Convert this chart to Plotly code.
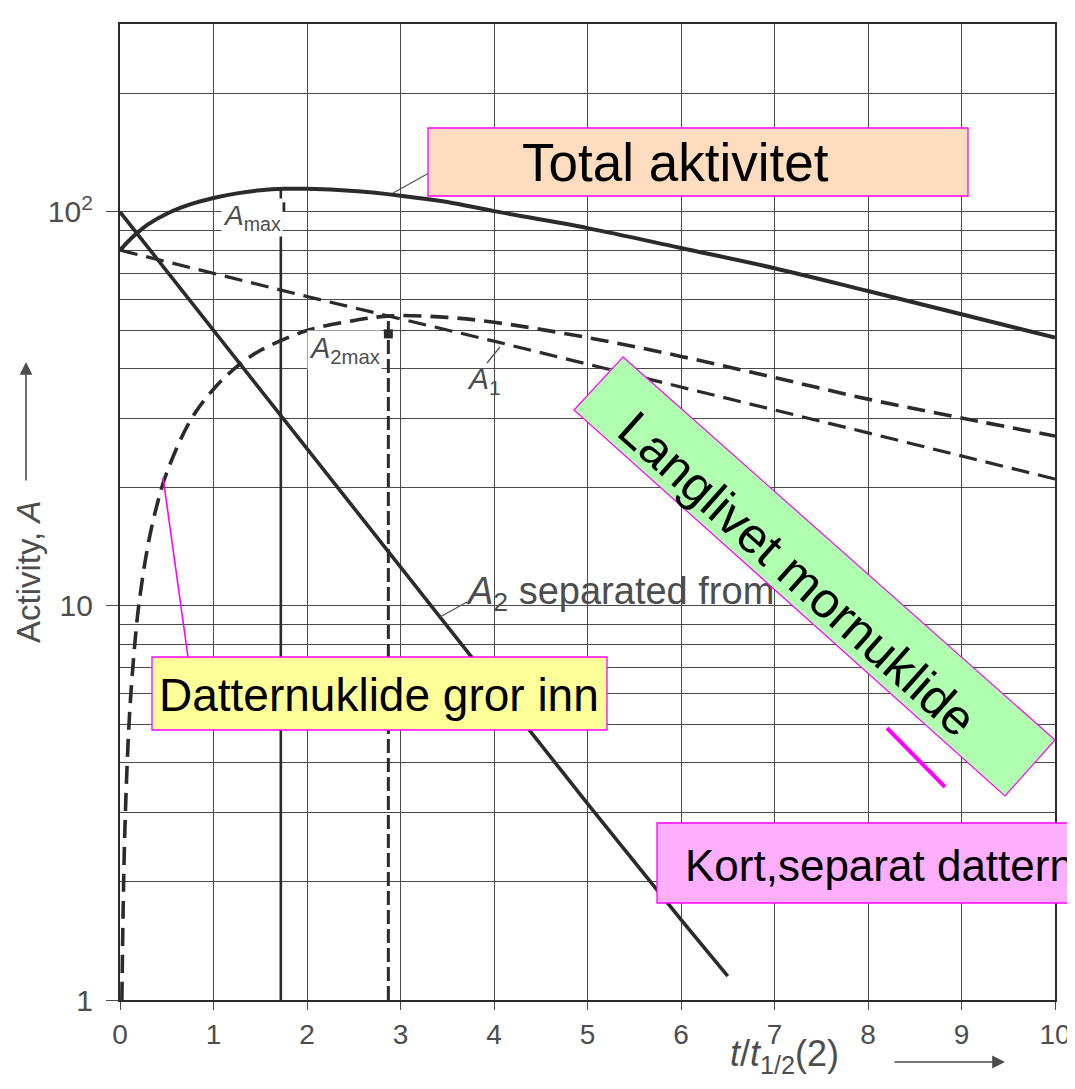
import plotly.graph_objects as go

# ---------------- data ----------------
t_total = [0, 0.15, 0.3, 0.5, 0.75, 1.0, 1.25, 1.5, 1.75, 2.0, 2.5, 3.0, 3.5, 4.0, 5.0, 6.0, 7.0, 8.0, 9.0, 10.0]
total = [80, 87, 93, 99, 104.5, 108.5, 111.5, 113.5, 114.5, 114.5, 113, 110, 106, 100.5, 91, 81, 72, 63, 55, 48]

t_a1 = [0, 2, 4, 6, 8, 10]
a1 = [80, 61, 47, 36, 27.5, 21]

t_a2 = [0.02, 0.05, 0.1, 0.15, 0.2, 0.3, 0.4, 0.5, 0.75, 1.0, 1.25, 1.5, 2.0, 2.5, 2.9, 3.5, 4.0, 5.0, 6.0, 7.0, 8.0, 9.0, 10.0]
a2 = [1.0, 2.6, 5.2, 7.6, 10, 14.3, 18.2, 21.8, 29.5, 35.5, 40.5, 44.5, 50, 53, 54.5, 54, 52.5, 48, 43, 38, 33.5, 30, 27]

t_sep = [0, 1, 2, 3, 4, 5, 6, 6.5]
a2_sep = [100, 50, 25, 12.5, 6.3, 3.15, 1.6, 1.15]

t_amax, amax = 1.72, 114.5
t_a2max, a2max = 2.87, 54.5

x_ticks = list(range(11))
y_major = [1, 10, 100]
y_major_text = ["1", "10", "10<sup>2</sup>"]
y_minor = [2, 3, 4, 5, 6, 7, 8, 9, 20, 30, 40, 50, 60, 70, 80, 90, 200]

# ---------------- layout helpers ----------------
# the page adds an 8 px body margin; the figure is shifted/shrunk so that
# all positions below can be given in page pixels
OFF = 8
W, H = 1075 - OFF, 1089 - 2 * OFF
L, R, T, B = 112, 20, 16, 81
PW, PH = W - L - R, H - T - B
YMAX_LOG = 2.4771


def px(x):
    return (x - OFF - L) / PW


def py(y):
    return (H - B - (y - OFF)) / PH


def t_at(x):
    return 10 * px(x)


def val_at(y):
    return 10 ** (YMAX_LOG * py(y))


INK = "#2b2b2b"
GRID = "#4a4a4a"
SCAN_TXT = "#4d4d4d"
MAG = "#ff00ff"
FONT = "Liberation Sans, Arial, sans-serif"

fig = go.Figure()

fig.add_trace(go.Scatter(x=t_total, y=total, mode="lines", line=dict(color=INK, width=4, shape="spline"),
                         name="Total", hoverinfo="skip"))
fig.add_trace(go.Scatter(x=t_a1, y=a1, mode="lines", line=dict(color=INK, width=3.2, dash="18px,9px"),
                         name="A1", hoverinfo="skip"))
fig.add_trace(go.Scatter(x=t_a2, y=a2, mode="lines", line=dict(color=INK, width=3.6, dash="18px,9px", shape="spline"),
                         name="A2", hoverinfo="skip"))
fig.add_trace(go.Scatter(x=t_sep, y=a2_sep, mode="lines", line=dict(color=INK, width=3.6),
                         name="A2 separated", hoverinfo="skip"))
fig.add_trace(go.Scatter(x=[t_amax, t_amax], y=[1, amax], mode="lines", line=dict(color=INK, width=2.6),
                         hoverinfo="skip"))
fig.add_trace(go.Scatter(x=[t_a2max, t_a2max], y=[1, a2max], mode="lines",
                         line=dict(color=INK, width=3, dash="14px,5px"), hoverinfo="skip"))
fig.add_trace(go.Scatter(x=[t_amax, t_a2max], y=[amax * 0.9, a2max * 0.9], mode="markers",
                         marker=dict(color=INK, size=9, symbol="square"), hoverinfo="skip"))
# label of the original figure that lies partly under the green box
fig.add_trace(go.Scatter(x=[t_at(468)], y=[val_at(594)], mode="text",
                         text=["<i>A</i><sub>2</sub> separated from"], textposition="middle right",
                         textfont=dict(size=38, color=SCAN_TXT, family=FONT), hoverinfo="skip"))

shapes = []
# leader lines from the original figure
for (x0, y0, x1, y1) in [(393, 193, 429, 173), (487, 363, 500, 347), (440, 617, 467, 602)]:
    shapes.append(dict(type="line", xref="paper", yref="paper", x0=px(x0), y0=py(y0), x1=px(x1), y1=py(y1),
                       line=dict(color="#555555", width=1.3)))
# coloured boxes
shapes.append(dict(type="rect", xref="paper", yref="paper", x0=px(428), x1=px(968), y0=py(196), y1=py(128),
                   fillcolor="#fddcbf", line=dict(color=MAG, width=1.3), layer="above"))
shapes.append(dict(type="rect", xref="paper", yref="paper", x0=px(152), x1=px(607), y0=py(730), y1=py(657),
                   fillcolor="#ffff99", line=dict(color=MAG, width=1.3), layer="above"))
shapes.append(dict(type="rect", xref="paper", yref="paper", x0=px(657), x1=px(1090), y0=py(903), y1=py(823),
                   fillcolor="#fdaffd", line=dict(color=MAG, width=1.3), layer="above"))
gp = [(623, 357), (1055, 740), (1005, 796), (574, 410)]
path = "M " + " L ".join(f"{px(a):.5f},{py(b):.5f}" for a, b in gp) + " Z"
shapes.append(dict(type="path", xref="paper", yref="paper", path=path,
                   fillcolor="#b0ffb0", line=dict(color=MAG, width=1.2), layer="above"))
# magenta pointer lines
shapes.append(dict(type="line", xref="paper", yref="paper", x0=px(163), y0=py(477), x1=px(188), y1=py(657),
                   line=dict(color=MAG, width=1.6), layer="above"))
shapes.append(dict(type="line", xref="paper", yref="paper", x0=px(887), y0=py(728), x1=px(945), y1=py(787),
                   line=dict(color=MAG, width=4), layer="above"))

ann = []


def txt(text, x, y, size, color="black", xanchor="center", angle=0, bg=None, family=FONT):
    d = dict(text=text, xref="paper", yref="paper", x=px(x), y=py(y), showarrow=False,
             xanchor=xanchor, yanchor="middle", textangle=angle,
             font=dict(size=size, color=color, family=family))
    if bg:
        d["bgcolor"] = bg
    ann.append(d)


# scan labels
txt("<i>A</i><sub>max</sub>", 252, 218, 28, SCAN_TXT, bg="white")
txt("<i>A</i><sub>2max</sub>", 344, 350, 29, SCAN_TXT, bg="white")
txt("<i>A</i><sub>1</sub>", 484, 380, 30, SCAN_TXT)
# coloured-box texts (drawn after shapes)
txt("Total aktivitet", 675, 162, 53)
txt("Langlivet mornuklide", 797, 574, 50, angle=41.7)
txt("Datternuklide gror inn", 157, 695, 46, xanchor="left")
txt("Kort,separat dattern", 683, 866, 44, xanchor="left")
# axis titles
txt("Activity, <i>A</i>", 28, 572, 33, SCAN_TXT, angle=-90)
txt("<i>t</i>/<i>t</i><sub>1/2</sub>(2)", 784, 1056, 36, SCAN_TXT)
ann.append(dict(text="", xref="paper", yref="paper", x=px(26), y=py(362), ax=0, ay=120,
                showarrow=True, arrowhead=2, arrowsize=1.6, arrowwidth=1.6, arrowcolor=SCAN_TXT))
ann.append(dict(text="", xref="paper", yref="paper", x=px(1005), y=py(1062), ax=-112, ay=0,
                showarrow=True, arrowhead=2, arrowsize=1.6, arrowwidth=1.6, arrowcolor=SCAN_TXT))

fig.update_layout(
    width=W, height=H,
    margin=dict(l=L, r=R, t=T, b=B),
    paper_bgcolor="white", plot_bgcolor="white",
    showlegend=False,
    shapes=shapes, annotations=ann,
    font=dict(family=FONT, color=SCAN_TXT),
)
fig.update_xaxes(range=[0, 10], tickvals=x_ticks, ticks="outside", ticklen=8, tickcolor=GRID,
                 showgrid=True, gridcolor=GRID, gridwidth=1.3, zeroline=False, automargin=False,
                 showline=True, mirror=True, linecolor=INK, linewidth=2.2,
                 tickfont=dict(size=28, color=SCAN_TXT))
fig.update_yaxes(type="log", range=[0, YMAX_LOG], tickvals=y_major, ticktext=y_major_text,
                 ticks="outside", ticklen=12, tickcolor=GRID, ticklabelstandoff=7,
                 showgrid=True, gridcolor=GRID, gridwidth=1.3, zeroline=False, automargin=False,
                 showline=True, mirror=True, linecolor=INK, linewidth=2.2,
                 tickfont=dict(size=30, color=SCAN_TXT),
                 minor=dict(tickvals=y_minor, showgrid=True, gridcolor=GRID, gridwidth=1.3, ticks=""))

fig.write_html("out.html")
